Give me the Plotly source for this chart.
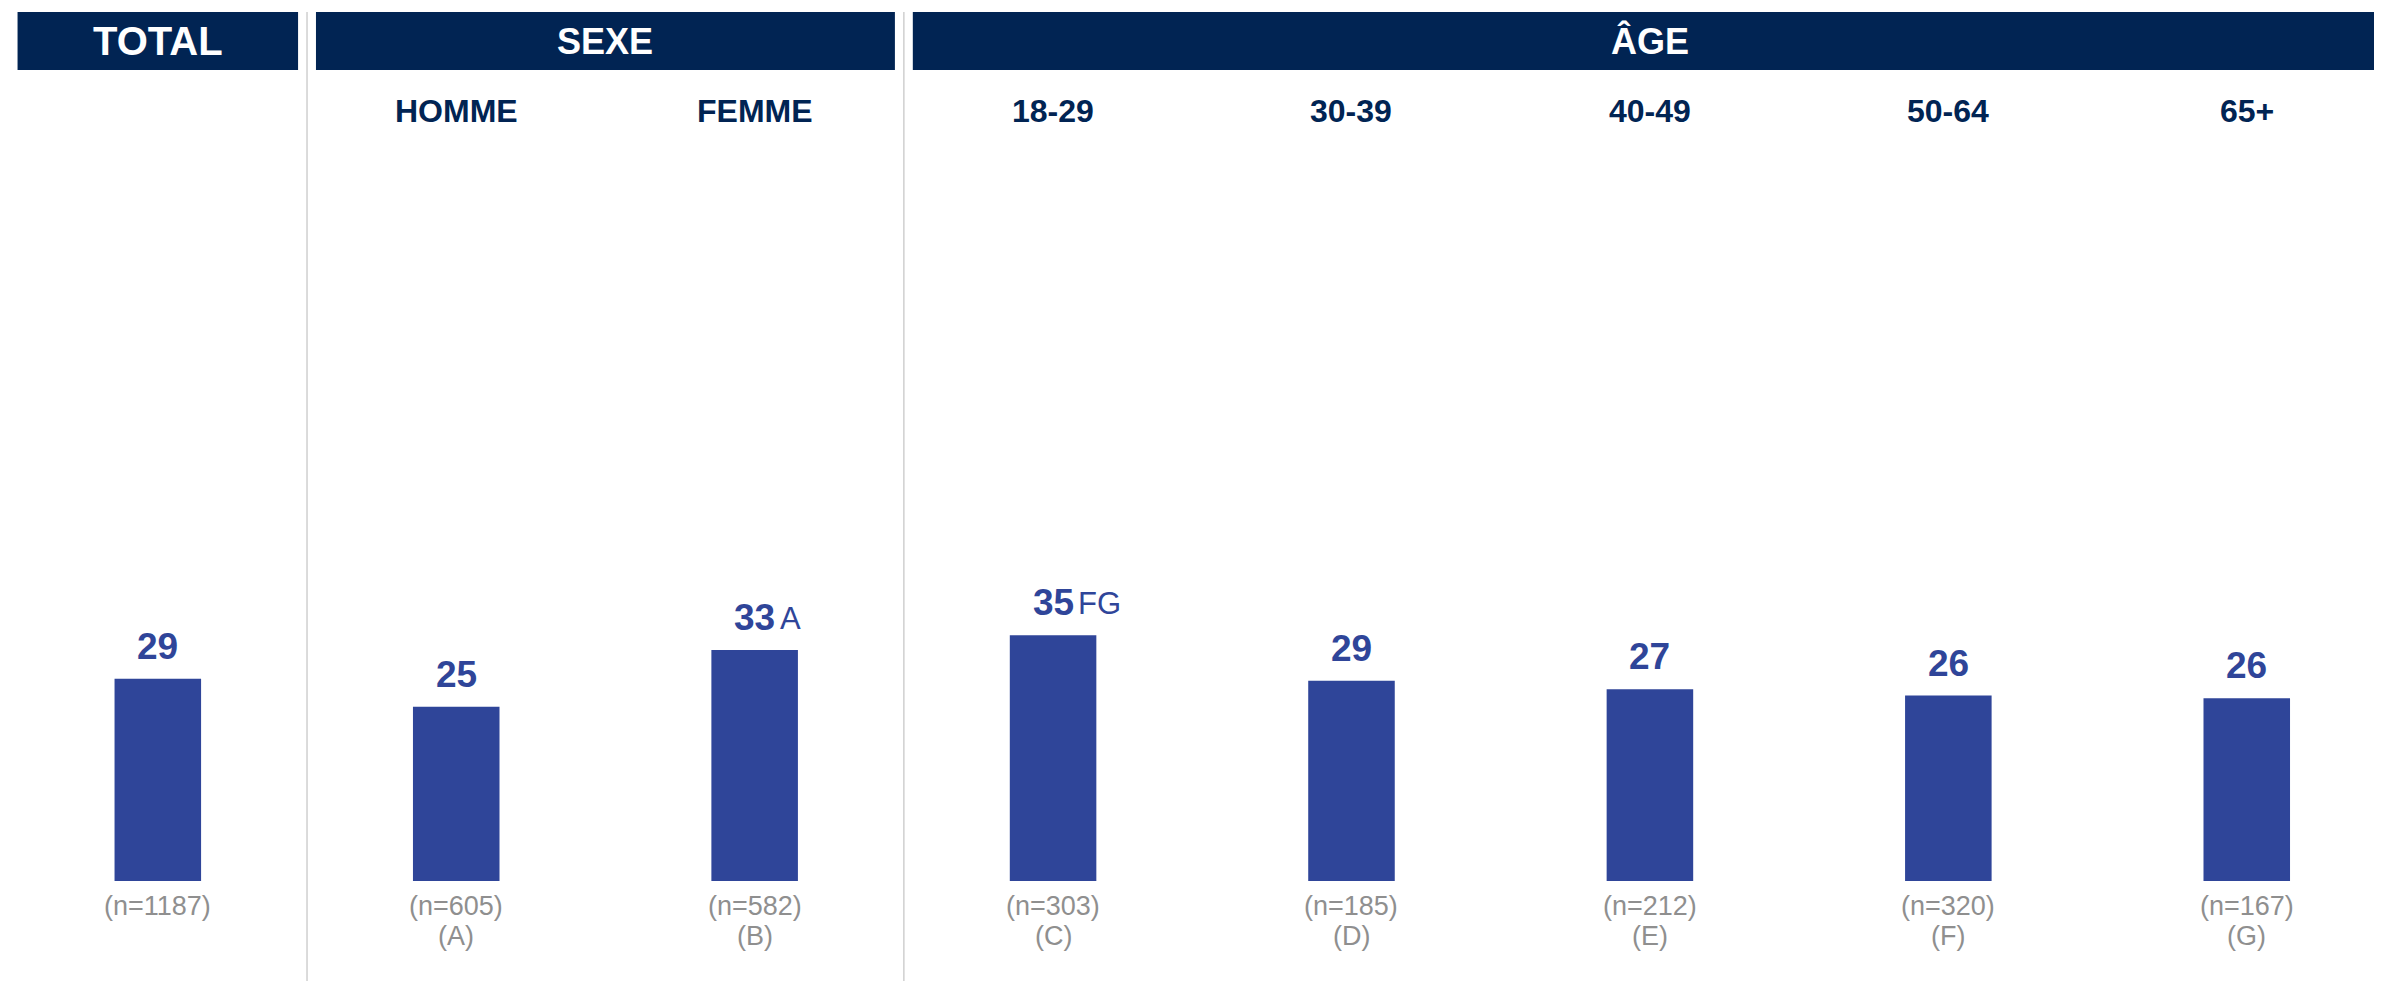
import plotly.graph_objects as go

# categories (in display order) and their values
categories = ["TOTAL", "HOMME", "FEMME", "18-29", "30-39", "40-49", "50-64", "65+"]
values = [28.9, 24.9, 33.0, 35.1, 28.6, 27.4, 26.5, 26.1]
value_labels = ["29", "25", "33", "35", "29", "27", "26", "26"]
sig_letters = ["", "", "A", "FG", "", "", "", ""]
sample_sizes = ["(n=1187)", "(n=605)", "(n=582)", "(n=303)", "(n=185)", "(n=212)", "(n=320)", "(n=167)"]
col_letters = ["", "(A)", "(B)", "(C)", "(D)", "(E)", "(F)", "(G)"]

# header groups: label, first index, last index
groups = [("TOTAL", 0, 0), ("SEXE", 1, 2), ("ÂGE", 3, 7)]

NAVY = "#012453"
BLUE = "#2F4599"
GREY = "#8F8F8F"
FONT = "Arial, Liberation Sans, sans-serif"

xs = list(range(len(categories)))

fig = go.Figure()
fig.add_trace(go.Bar(
    x=xs,
    y=values,
    width=0.29,
    marker_color=BLUE,
    marker_line_width=0,
    hoverinfo="skip",
    showlegend=False,
))

annotations = []
for i, cat in enumerate(categories):
    # value on top of bar
    annotations.append(dict(
        x=i, y=values[i], xref="x", yref="y",
        text="<b>" + value_labels[i] + "</b>",
        showarrow=False, yanchor="bottom", yshift=10,
        font=dict(family=FONT, size=37, color=BLUE),
    ))
    if sig_letters[i]:
        annotations.append(dict(
            x=i, y=values[i], xref="x", yref="y",
            text=sig_letters[i],
            showarrow=False, yanchor="bottom", xanchor="left",
            xshift=23, yshift=12,
            font=dict(family=FONT, size=31, color=BLUE),
        ))
    # sub-headers (not for total)
    if i > 0:
        annotations.append(dict(
            x=i, y=1.1, xref="x", yref="paper",
            text="<b>" + cat + "</b>",
            showarrow=False, yanchor="middle",
            font=dict(family=FONT, size=32, color=NAVY),
        ))
    annotations.append(dict(
        x=i, y=-0.036, xref="x", yref="paper",
        text=sample_sizes[i],
        showarrow=False, yanchor="middle",
        font=dict(family=FONT, size=27, color=GREY),
    ))
    if col_letters[i]:
        annotations.append(dict(
            x=i, y=-0.079, xref="x", yref="paper",
            text=col_letters[i],
            showarrow=False, yanchor="middle",
            font=dict(family=FONT, size=27, color=GREY),
        ))

shapes = []
x_min, x_max = -0.502, 7.48
for label, a, b in groups:
    x0 = a - 0.47
    x1 = b + 0.47 if b < 7 else x_max
    shapes.append(dict(
        type="rect", xref="x", yref="paper",
        x0=x0, x1=x1, y0=1.1586, y1=1.2414,
        fillcolor=NAVY, line_width=0, layer="above",
    ))
    annotations.append(dict(
        x=(a + b) / 2, y=1.2,
        xref="x", yref="paper",
        text="<b>" + label + "</b>",
        showarrow=False, yanchor="middle",
        font=dict(family=FONT, size=36 if label != "TOTAL" else 40, color="white"),
    ))
    # separator before each group (except the first)
    if a > 0:
        shapes.append(dict(
            type="line", xref="x", yref="paper",
            x0=a - 0.5, x1=a - 0.5, y0=1.2414, y1=-0.16,
            line=dict(color="#CFCFCF", width=1.5),
        ))

fig.update_layout(
    width=2382, height=981,
    margin=dict(l=0, r=0, t=173, b=108, autoexpand=False),
    paper_bgcolor="white",
    plot_bgcolor="white",
    xaxis=dict(range=[x_min, x_max], visible=False, fixedrange=True),
    yaxis=dict(range=[0, 100], visible=False, fixedrange=True),
    annotations=annotations,
    shapes=shapes,
    font_family=FONT,
)

fig.write_html("out.html")
